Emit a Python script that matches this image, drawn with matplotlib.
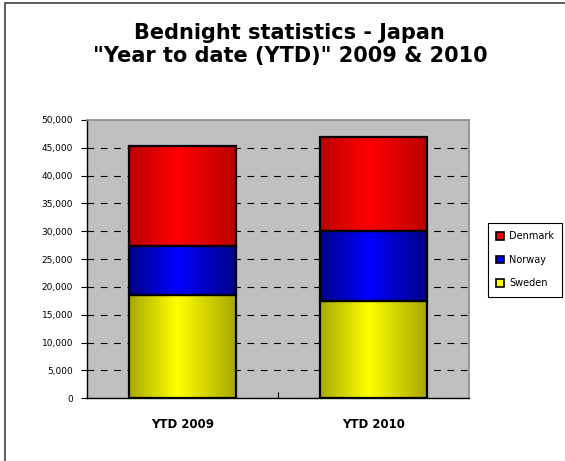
import numpy as np
import matplotlib
matplotlib.use("Agg")
import matplotlib.pyplot as plt
from matplotlib.colors import LinearSegmentedColormap
from matplotlib.patches import Patch, Rectangle
from matplotlib.ticker import FuncFormatter

categories = ["YTD 2009", "YTD 2010"]
countries = ["Sweden", "Norway", "Denmark"]
sweden = [18600, 17500]
norway = [8700, 12500]
denmark = [18000, 17000]
series = [sweden, norway, denmark]

# (dark edge, bright centre) for the fake Excel gradient
shades = {
    "Sweden": ("#a8a800", "#ffff00"),
    "Norway": ("#000088", "#0000ff"),
    "Denmark": ("#bb0000", "#ff0000"),
}

fig = plt.figure(figsize=(5.65, 4.61), dpi=100)
fig.patch.set_facecolor("white")
ax = fig.add_axes([0.154, 0.136, 0.676, 0.604])
ax.set_facecolor("#c0c0c0")

x = np.arange(len(categories))
width = 0.56
bottom = np.zeros(len(categories))
grad = np.linspace(0, 1, 256).reshape(1, -1)
for name, vals in zip(countries, series):
    dark, bright = shades[name]
    cmap = LinearSegmentedColormap.from_list(name, [(0, dark), (0.45, bright), (1, dark)])
    bars = ax.bar(x, vals, width, bottom=bottom, facecolor="none",
                  edgecolor="black", linewidth=1.6, zorder=3)
    for b in bars:
        x0, y0 = b.get_x(), b.get_y()
        ax.imshow(grad, cmap=cmap, aspect="auto", zorder=2,
                  extent=[x0, x0 + b.get_width(), y0, y0 + b.get_height()])
    bottom += np.array(vals)

ax.set_xlim(-0.5, 1.5)
ax.set_ylim(0, 50000)
ax.set_yticks(np.arange(0, 50001, 5000))
ax.yaxis.set_major_formatter(FuncFormatter(lambda v, p: f"{int(v):,}"))
ax.set_xticks(x)
ax.set_xticklabels(categories, fontsize=8.5, fontweight="bold")
ax.set_xticks([0.5], minor=True)
ax.tick_params(axis="x", which="major", length=0, pad=14)
ax.tick_params(axis="x", which="minor", direction="in", length=4, width=0.8)
ax.tick_params(axis="y", length=4, width=0.8, labelsize=6.5, pad=6, colors="black")

ax.yaxis.grid(True, color="black", linestyle=(0, (6, 6)), linewidth=0.8)
ax.yaxis.get_gridlines()[-1].set_visible(False)
ax.set_axisbelow(True)
for side in ["left", "bottom"]:
    ax.spines[side].set_color("black")
    ax.spines[side].set_linewidth(1.0)
for side in ["top", "right"]:
    ax.spines[side].set_color("#8a8a8a")
    ax.spines[side].set_linewidth(1.2)

fig.text(0.513, 1 - 39 / 461, "Bednight statistics - Japan", ha="center", va="baseline",
         fontsize=15, fontweight="bold")
fig.text(0.513, 1 - 62 / 461, "\"Year to date (YTD)\" 2009 & 2010", ha="center", va="baseline",
         fontsize=15, fontweight="bold")

handles = [Patch(facecolor=shades[n][1], edgecolor="black", linewidth=1.2) for n in countries[::-1]]
leg = fig.legend(handles, countries[::-1], loc="upper left",
                 bbox_to_anchor=(488 / 565, 1 - 223 / 461), fontsize=7,
                 frameon=True, fancybox=False, edgecolor="black", framealpha=1,
                 handlelength=0.8, handleheight=0.8, handletextpad=0.5,
                 labelspacing=1.4, borderpad=0.85, borderaxespad=0)
leg.get_frame().set_linewidth(0.8)

fig.patches.append(Rectangle((5 / 565, -0.1), 1.2, 1.1 - 3 / 461, transform=fig.transFigure,
                             fill=False, edgecolor="#404040", linewidth=1.2))

fig.savefig("out.png", dpi=100)
